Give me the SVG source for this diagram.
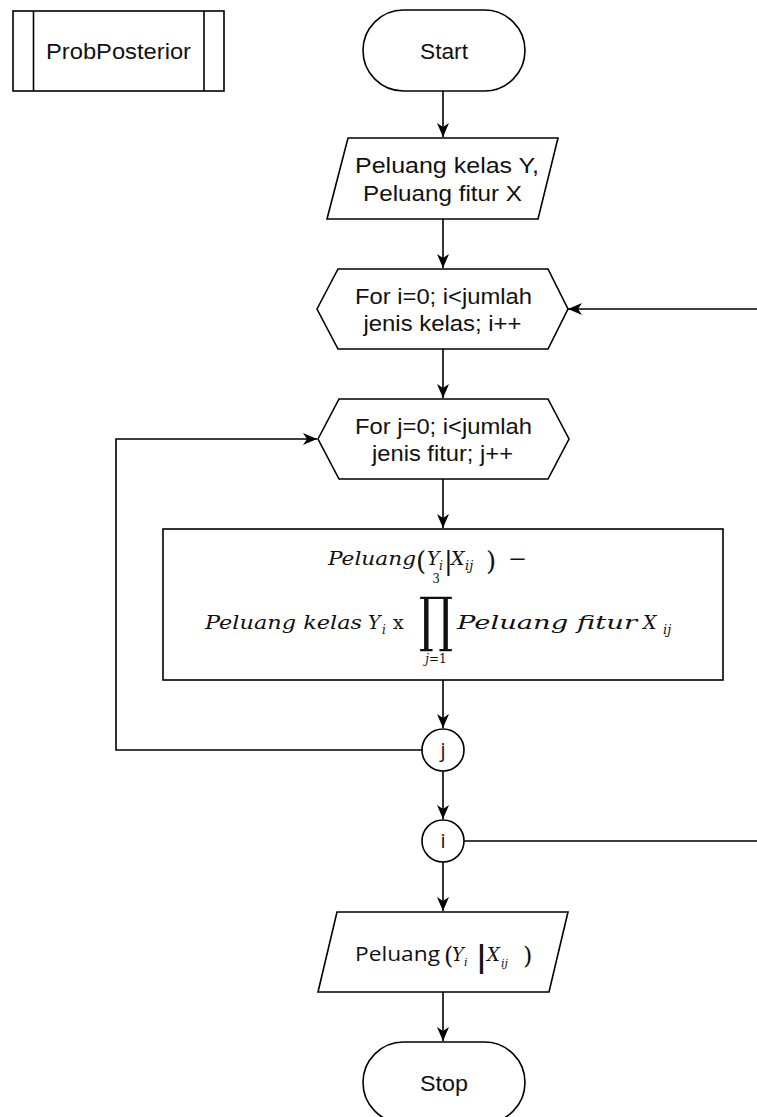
<svg xmlns="http://www.w3.org/2000/svg" width="757" height="1117" viewBox="0 0 757 1117">
  <style>
    .shape { fill: #ffffff; stroke: #000000; stroke-width: 1.6; }
    .edge { fill: none; stroke: #000000; stroke-width: 1.6; }
    .lbl { font-family: "Liberation Sans", Arial, sans-serif; font-size: 22px; fill: #111111; text-anchor: middle; }
    .math { font-family: "DejaVu Serif", "Liberation Serif", serif; font-style: italic; font-size: 19px; fill: #111111; }
    .mathsub { font-family: "DejaVu Serif", "Liberation Serif", serif; font-style: italic; font-size: 12px; fill: #111111; }
    .mathup { font-family: "DejaVu Serif", "Liberation Serif", serif; font-size: 19px; fill: #111111; }
    .cal { font-family: "Open Sans", "Noto Sans", sans-serif; font-size: 20px; fill: #111111; }
  </style>
  <defs>
    <marker id="arrow" markerUnits="userSpaceOnUse" markerWidth="14" markerHeight="12" refX="14" refY="6" orient="auto">
      <path d="M0,0 L14,6 L0,12 L4,6 Z" fill="#000000"/>
    </marker>
  </defs>

  <rect width="757" height="1117" fill="#ffffff"/>

  <!-- connectors -->
  <g id="connectors">
    <path class="edge" d="M443,91 V137" marker-end="url(#arrow)"/>
    <path class="edge" d="M443,219 V268" marker-end="url(#arrow)"/>
    <path class="edge" d="M443,349 V398" marker-end="url(#arrow)"/>
    <path class="edge" d="M443,479 V528" marker-end="url(#arrow)"/>
    <path class="edge" d="M443,680 V728" marker-end="url(#arrow)"/>
    <path class="edge" d="M443,771 V819" marker-end="url(#arrow)"/>
    <path class="edge" d="M443,862 V911" marker-end="url(#arrow)"/>
    <path class="edge" d="M443,992 V1041" marker-end="url(#arrow)"/>
    <!-- inner loop back to the j header -->
    <path class="edge" d="M422,750 H116 V439 H317" marker-end="url(#arrow)"/>
    <!-- outer loop back to the i header (runs past the right edge) -->
    <path class="edge" d="M464,841 H762 V309 H568" marker-end="url(#arrow)"/>
  </g>

  <!-- subprocess title -->
  <g id="probposterior">
    <rect class="shape" x="13" y="11" width="211" height="80"/>
    <line class="edge" x1="33.5" y1="11" x2="33.5" y2="91"/>
    <line class="edge" x1="204" y1="11" x2="204" y2="91"/>
    <text class="lbl" x="118.5" y="59" textLength="145" lengthAdjust="spacingAndGlyphs">ProbPosterior</text>
  </g>

  <g id="start">
    <rect class="shape" x="363" y="10" width="162" height="81" rx="40.5" ry="40.5"/>
    <text class="lbl" x="444" y="59" textLength="48" lengthAdjust="spacingAndGlyphs">Start</text>
  </g>

  <g id="input">
    <polygon class="shape" points="348,138 558,138 538,219 327,219"/>
    <text class="lbl" x="447" y="173" textLength="184" lengthAdjust="spacingAndGlyphs">Peluang kelas Y,</text>
    <text class="lbl" x="442.5" y="201" textLength="159" lengthAdjust="spacingAndGlyphs">Peluang fitur X</text>
  </g>

  <g id="loop-i">
    <polygon class="shape" points="317,309 338,269 548,269 568,309 548,349 338,349"/>
    <text class="lbl" x="443.5" y="304" textLength="177" lengthAdjust="spacingAndGlyphs">For i=0; i&lt;jumlah</text>
    <text class="lbl" x="442.5" y="331" textLength="158" lengthAdjust="spacingAndGlyphs">jenis kelas; i++</text>
  </g>

  <g id="loop-j">
    <polygon class="shape" points="318,439 339,399 548,399 569,439 548,479 339,479"/>
    <text class="lbl" x="443.5" y="434" textLength="177" lengthAdjust="spacingAndGlyphs">For j=0; i&lt;jumlah</text>
    <text class="lbl" x="442.5" y="461" textLength="141" lengthAdjust="spacingAndGlyphs">jenis fitur; j++</text>
  </g>

  <g id="posterior">
    <rect class="shape" x="163" y="529" width="560" height="151"/>
    <!-- line 1: Peluang(Yi|Xij) − -->
    <text class="math" x="328" y="565" textLength="88" lengthAdjust="spacingAndGlyphs">Peluang</text>
    <text class="mathup" x="416" y="570" style="font-size:26px">(</text>
    <text class="math" x="427" y="565">Y</text>
    <text class="mathsub" x="439" y="570">i</text>
    <text class="mathup" x="444" y="570" style="font-size:26px">|</text>
    <text class="math" x="451" y="565">X</text>
    <text class="mathsub" x="465" y="570" style="font-size:13px">ij</text>
    <text class="mathup" x="486" y="570" style="font-size:26px">)</text>
    <text class="mathup" x="508" y="565" textLength="19" lengthAdjust="spacingAndGlyphs">−</text>
    <!-- line 2: product over j -->
    <text class="math" x="205" y="629" textLength="157" lengthAdjust="spacingAndGlyphs">Peluang kelas</text>
    <text class="math" x="368" y="629">Y</text>
    <text class="mathsub" x="382" y="634">i</text>
    <text class="mathup" x="393" y="629">x</text>
    <text class="mathup" x="436" y="583" text-anchor="middle" style="font-size:12px">3</text>
    <text class="mathup" x="419" y="640" textLength="34" lengthAdjust="spacingAndGlyphs" style="font-size:60px">∏</text>
    <text class="mathsub" x="436" y="663" text-anchor="middle">j<tspan style="font-style:normal">=1</tspan></text>
    <text class="math" x="457" y="629" textLength="180" lengthAdjust="spacingAndGlyphs">Peluang fitur</text>
    <text class="math" x="643" y="629">X</text>
    <text class="mathsub" x="663" y="634" style="font-size:13px">ij</text>
  </g>

  <g id="connector-j">
    <circle class="shape" cx="443" cy="750" r="21"/>
    <text class="cal" x="443" y="757" text-anchor="middle">j</text>
  </g>

  <g id="connector-i">
    <circle class="shape" cx="443" cy="841" r="21"/>
    <text class="cal" x="443" y="848" text-anchor="middle">i</text>
  </g>

  <g id="output">
    <polygon class="shape" points="337,912 568,912 549,992 318,992"/>
    <text class="cal" x="355" y="961" textLength="85" lengthAdjust="spacingAndGlyphs">Peluang</text>
    <text class="mathup" x="444" y="964" style="font-size:24px">(</text>
    <text class="math" x="452" y="961" style="font-size:18px">Y</text>
    <text class="mathsub" x="464" y="966" style="font-size:11px">i</text>
    <text class="mathup" x="476" y="967" style="font-size:30px;font-weight:bold">|</text>
    <text class="math" x="487" y="961" style="font-size:18px">X</text>
    <text class="mathsub" x="501" y="967" style="font-size:11px">ij</text>
    <text class="mathup" x="523" y="964" style="font-size:24px">)</text>
  </g>

  <g id="stop">
    <rect class="shape" x="363" y="1042" width="162" height="81" rx="40.5" ry="40.5"/>
    <text class="lbl" x="444" y="1091" textLength="48" lengthAdjust="spacingAndGlyphs">Stop</text>
  </g>
</svg>
